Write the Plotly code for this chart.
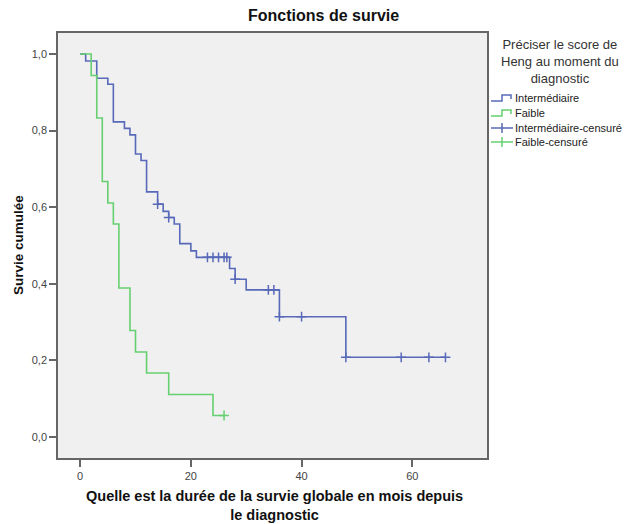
import plotly.graph_objects as go

# ---------------- data ----------------
int_times = [0, 1, 3, 5, 6, 8, 9, 10, 11, 12, 14, 15, 16, 17, 18, 20, 21, 27, 28, 30, 36, 48, 66]
int_surv = [1.0, 0.982, 0.937, 0.921, 0.823, 0.806, 0.789, 0.739, 0.722, 0.640, 0.608, 0.589,
            0.573, 0.556, 0.505, 0.486, 0.469, 0.440, 0.412, 0.384, 0.314, 0.208, 0.208]
int_cens_t = [14, 16, 23, 24, 25, 26, 26.5, 28, 34, 35, 36, 40, 48, 58, 63, 66]
int_cens_s = [0.608, 0.573, 0.469, 0.469, 0.469, 0.469, 0.469, 0.412, 0.384, 0.384,
              0.314, 0.314, 0.208, 0.208, 0.208, 0.208]

fai_times = [0, 2, 3, 4, 5, 6, 7, 9, 10, 12, 16, 24, 26]
fai_surv = [1.0, 0.944, 0.833, 0.667, 0.611, 0.556, 0.389, 0.278, 0.222, 0.167, 0.111, 0.056, 0.056]
fai_cens_t = [26]
fai_cens_s = [0.056]

x_ticks = [0, 20, 40, 60]
y_ticks = [0.0, 0.2, 0.4, 0.6, 0.8, 1.0]

legend_title = "Préciser le score de<br>Heng au moment du<br>diagnostic"
legend_labels = ["Intermédiaire", "Faible", "Intermédiaire-censuré", "Faible-censuré"]

# ---------------- style ----------------
BLUE = "#5769b8"
GREEN = "#66d070"
FONT = "Liberation Sans, Arial, sans-serif"
W, H = 624, 524
L, R, T, B = 58, 137, 33, 66
PW, PH = W - L - R, H - T - B


def px(x):
    return (x - L) / PW


def py(y):
    return (H - B - y) / PH


fig = go.Figure()
fig.add_trace(go.Scatter(x=int_times, y=int_surv, mode="lines", line=dict(color=BLUE, width=1.6, shape="hv"),
                         showlegend=False, hoverinfo="skip"))
fig.add_trace(go.Scatter(x=fai_times, y=fai_surv, mode="lines", line=dict(color=GREEN, width=1.6, shape="hv"),
                         showlegend=False, hoverinfo="skip"))
fig.add_trace(go.Scatter(x=int_cens_t, y=int_cens_s, mode="markers",
                         marker=dict(symbol="cross-thin-open", size=7, color=BLUE, line=dict(color=BLUE, width=1.5)),
                         showlegend=False, hoverinfo="skip"))
fig.add_trace(go.Scatter(x=fai_cens_t, y=fai_cens_s, mode="markers",
                         marker=dict(symbol="cross-thin-open", size=7, color=GREEN, line=dict(color=GREEN, width=1.5)),
                         showlegend=False, hoverinfo="skip"))

axis_common = dict(showline=True, mirror=True, linecolor="#666666", linewidth=1.5, showgrid=False,
                   zeroline=False, ticks="outside", ticklen=7, tickwidth=1.5, tickcolor="#666666",
                   tickfont=dict(family=FONT, size=11, color="#444"))

fig.update_xaxes(range=[-4, 73.5], tickvals=x_ticks, **axis_common)
fig.update_yaxes(range=[-0.055, 1.055], tickvals=y_ticks, tickformat=".1f", **axis_common)

ann = []
ann.append(dict(text="<b>Fonctions de survie</b>", x=px(323), y=py(15), xref="paper", yref="paper",
                showarrow=False, font=dict(family=FONT, size=16, color="#111"), xanchor="center", yanchor="middle"))
ann.append(dict(text="<b>Survie cumulée</b>", x=px(19), y=py(245), xref="paper", yref="paper", textangle=-90,
                showarrow=False, font=dict(family=FONT, size=13.5, color="#111"), xanchor="center", yanchor="middle"))
ann.append(dict(text="<b>Quelle est la durée de la survie globale en mois depuis<br>le diagnostic</b>",
                x=px(274), y=py(505), xref="paper", yref="paper", showarrow=False,
                font=dict(family=FONT, size=14.5, color="#111"), xanchor="center", yanchor="middle"))
ann.append(dict(text=legend_title, x=px(560), y=py(61), xref="paper", yref="paper", showarrow=False,
                font=dict(family=FONT, size=13, color="#333"), xanchor="center", yanchor="middle"))

shapes = []
item_y = [98, 113, 128, 142]
colors = [BLUE, GREEN, BLUE, GREEN]
for i, (lab, yy, c) in enumerate(zip(legend_labels, item_y, colors)):
    ann.append(dict(text=lab, x=px(513), y=py(yy), xref="paper", yref="paper", showarrow=False,
                    font=dict(family=FONT, size=11, color="#222"), xanchor="left", yanchor="middle"))
    if i < 2:
        path = "M {} {} L {} {} L {} {} L {} {} L {} {}".format(
            px(491), py(yy + 3), px(502), py(yy + 3), px(502), py(yy - 3), px(511), py(yy - 3), px(511), py(yy + 1))
        shapes.append(dict(type="path", path=path, xref="paper", yref="paper", line=dict(color=c, width=1.5)))
    else:
        shapes.append(dict(type="line", x0=px(491), x1=px(513), y0=py(yy), y1=py(yy), xref="paper", yref="paper",
                           line=dict(color=c, width=1.5)))
        shapes.append(dict(type="line", x0=px(502), x1=px(502), y0=py(yy - 5), y1=py(yy + 5), xref="paper",
                           yref="paper", line=dict(color=c, width=1.5)))

fig.update_layout(width=W, height=H, margin=dict(l=L, r=R, t=T, b=B, autoexpand=False),
                  paper_bgcolor="white", plot_bgcolor="#f0f0f0", separators=", ",
                  annotations=ann, shapes=shapes, showlegend=False,
                  font=dict(family=FONT))

fig.write_html("out.html", config={"displayModeBar": False},
               post_script="document.body.style.margin='0';")
